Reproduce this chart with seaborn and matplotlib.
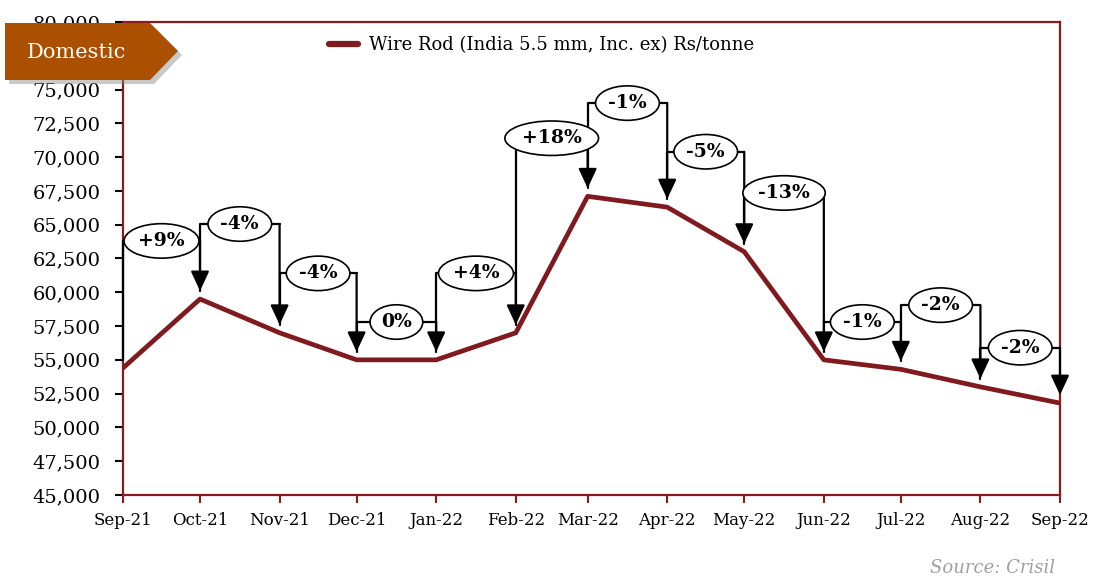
import pandas as pd
import matplotlib.pyplot as plt
import matplotlib.dates as mdates
import matplotlib.ticker as mticker
from matplotlib.patches import Polygon
import seaborn as sns

# monthly wire rod prices (Rs/tonne)
months = ['2021-09-01', '2021-10-01', '2021-11-01', '2021-12-01', '2022-01-01',
          '2022-02-01', '2022-03-01', '2022-04-01', '2022-05-01', '2022-06-01',
          '2022-07-01', '2022-08-01', '2022-09-01']
prices = [54400, 59500, 57000, 55000, 55000, 57000, 67100, 66300, 63000,
          55000, 54300, 53000, 51800]

# month-on-month change callouts and the height of each bracket
changes = ['+9%', '-4%', '-4%', '0%', '+4%', '+18%', '-1%', '-5%', '-13%',
           '-1%', '-2%', '-2%']
bracket_levels = [63800, 65050, 61400, 57800, 61400, 71400, 74000, 70400,
                  67350, 57800, 59050, 55900]

series_name = 'Wire Rod (India 5.5 mm, Inc. ex) Rs/tonne'

maroon = '#7f1a1e'
frame = '#8b1a1a'
banner = '#ab5000'

df = pd.DataFrame({'month': pd.to_datetime(months), 'price': prices})

sns.set_style('white')
plt.rcParams['font.family'] = ['DejaVu Serif']
plt.rcParams['text.color'] = 'black'
plt.rcParams['xtick.labelcolor'] = 'black'
plt.rcParams['ytick.labelcolor'] = 'black'

fig = plt.figure(figsize=(10.93, 5.79), dpi=100)
ax = fig.add_axes([123 / 1093, 1 - 495 / 579, 937 / 1093, 473 / 579])

sns.lineplot(data=df, x='month', y='price', ax=ax, color=maroon, lw=3.4,
             label=series_name, zorder=2)

gap = 600
dates = df['month']
for i, (lab, level) in enumerate(zip(changes, bracket_levels)):
    x0, x1 = dates[i], dates[i + 1]
    ax.plot([x0, x0, x1], [prices[i] + gap, level, level], color='black',
            lw=1.6, zorder=4, clip_on=False)
    ax.annotate('', xy=(x1, prices[i + 1] + gap), xytext=(x1, level),
                arrowprops=dict(arrowstyle='-|>,head_length=0.6,head_width=0.28',
                                mutation_scale=20, color='black', lw=1.6,
                                shrinkA=0, shrinkB=0),
                zorder=4, annotation_clip=False)
    xm = x0 + (x1 - x0) / 2
    ax.text(xm, level, lab, ha='center', va='center', fontsize=13.5,
            fontweight='bold', color='black', zorder=5,
            bbox=dict(boxstyle='ellipse,pad=0.17', fc='white', ec='black', lw=1.2))

ax.set_xlim(dates.iloc[0], dates.iloc[-1])
ax.set_ylim(45000, 80000)
ax.yaxis.set_major_locator(mticker.MultipleLocator(2500))
ax.yaxis.set_major_formatter(mticker.StrMethodFormatter('{x:,.0f}'))
ax.xaxis.set_major_locator(mdates.MonthLocator())
ax.xaxis.set_major_formatter(mdates.DateFormatter('%b-%y'))
ax.set_xlabel('')
ax.set_ylabel('')

ax.tick_params(axis='y', direction='out', length=6, width=1.5, color='black',
               labelsize=14, labelcolor='black', pad=10, left=True)
ax.tick_params(axis='x', direction='out', length=6, width=1.5, color=frame,
               labelsize=12, labelcolor='black', pad=6, bottom=True)
for sp in ax.spines.values():
    sp.set_visible(True)
    sp.set_color(frame)
    sp.set_linewidth(1.6)

leg = ax.legend(loc='center', bbox_to_anchor=(0.447, 0.951), frameon=False,
                fontsize=13, handlelength=1.6, handletextpad=0.6)
for t in leg.get_texts():
    t.set_color('black')
for line in leg.get_lines():
    line.set_linewidth(4.5)
    line.set_solid_capstyle('round')

# "Domestic" banner in the top-left corner
def px(x, y):
    return (x / 1093, 1 - y / 579)

shape = [(5, 23), (150, 23), (178, 51), (150, 80), (5, 80)]
shadow = Polygon([px(x + 4, y + 4) for x, y in shape], closed=True,
                 transform=fig.transFigure, fc='#888888', ec='none', alpha=0.45,
                 zorder=9)
flag = Polygon([px(x, y) for x, y in shape], closed=True,
               transform=fig.transFigure, fc=banner, ec='none', zorder=10)
fig.patches.extend([shadow, flag])
fig.text(*px(77, 52), 'Domestic', color='white', fontsize=15, ha='center',
         va='center', zorder=11)

fig.text(*px(1055, 568), 'Source: Crisil', color='#a0a0a0', fontsize=13,
         style='italic', ha='right', va='center')

fig.savefig('out.png', dpi=100)
